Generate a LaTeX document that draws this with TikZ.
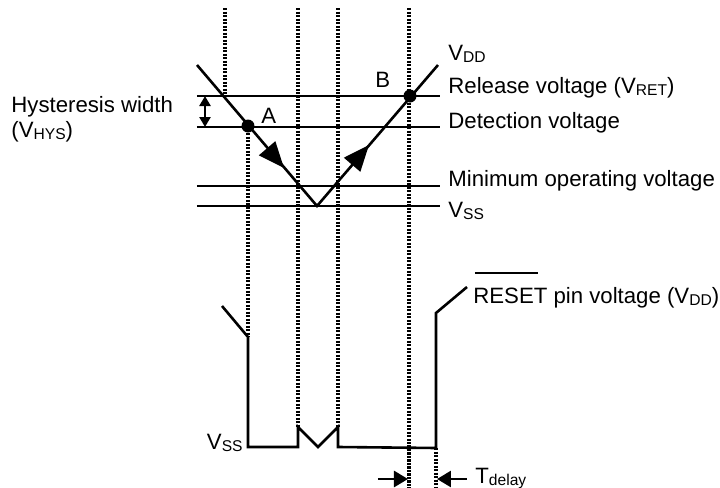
\documentclass[tikz,border=0pt]{standalone}
\usepackage{fontspec}
\setmainfont{Liberation Sans}
\usetikzlibrary{arrows.meta}
\newcommand\sbs[1]{\raisebox{-1.2pt}{\fontsize{7.8}{8}\selectfont #1}}
\begin{document}
\begin{tikzpicture}[x=0.5pt,y=-0.5pt,
  wire/.style={line width=1.3pt, line join=miter},
  dots/.style={line width=1.6pt, dash pattern=on 1.2pt off 0.55pt},
  lbl/.style={anchor=base west, inner sep=0pt, font=\fontsize{11.1}{13}\selectfont},
  rlbl/.style={anchor=base east, inner sep=0pt, font=\fontsize{11.1}{13}\selectfont},
  bigtri/.style={-{Triangle[length=13pt,width=10.5pt]}, line width=1.3pt},
  dot/.style={fill=black},
]
\useasboundingbox (0,0) rectangle (720,488);

% key points
\coordinate (Ltop) at (197,65);
\coordinate (Vbot) at (317,206);
\coordinate (Rtop) at (438,65);
\coordinate (A) at (248,126);
\coordinate (B) at (410,96);

% dotted verticals
\coordinate (d1t) at (225,8);   \coordinate (d1b) at (225,96);
\coordinate (d2t) at (248,126); \coordinate (d2b) at (248,337);
\coordinate (d3t) at (298,8);   \coordinate (d3b) at (298,427);
\coordinate (d4t) at (338,8);   \coordinate (d4b) at (338,427);
\coordinate (d5t) at (409,8);   \coordinate (d5b) at (409,488);
\coordinate (d6t) at (436,448); \coordinate (d6b) at (436,488);
\foreach \i in {1,...,6} \draw[dots] (d\i t) -- (d\i b);

% horizontal levels
\coordinate (retL) at (197,96);  \coordinate (retR) at (440,96);
\coordinate (detL) at (197,127); \coordinate (detR) at (440,127);
\coordinate (minL) at (197,186); \coordinate (minR) at (440,186);
\coordinate (vssL) at (197,206); \coordinate (vssR) at (440,206);
\draw[wire] (retL) -- (retR);
\draw[wire] (detL) -- (detR);
\draw[wire] (minL) -- (minR);
\draw[wire] (vssL) -- (vssR);

% V-shaped supply
\draw[wire] (Ltop) -- (Vbot) -- (Rtop);
\coordinate (a1s) at (277.5,160.4); \coordinate (a1t) at (284,168);
\coordinate (a2s) at (362.5,152.6); \coordinate (a2t) at (369,145);
\draw[bigtri] (a1s) -- (a1t);
\draw[bigtri] (a2s) -- (a2t);
\fill[dot] (A) circle[radius=6.5];
\fill[dot] (B) circle[radius=6.5];

% hysteresis arrow
\coordinate (h1) at (205,96); \coordinate (h2) at (205,127);
\draw[line width=1.3pt, {Triangle[length=5pt,width=5.5pt]}-{Triangle[length=5pt,width=5.5pt]}] (h1) -- (h2);

% reset waveform
\coordinate (r0) at (222,306);
\coordinate (r1) at (248,337);
\coordinate (r2) at (248,447);
\coordinate (r3) at (298,447);
\coordinate (r4) at (298,427);
\coordinate (r5) at (318,447);
\coordinate (r6) at (338,427);
\coordinate (r7) at (338,447);
\coordinate (r8) at (436,448);
\coordinate (r9) at (436,313);
\coordinate (r10) at (467,287);
\draw[wire] (r0) -- (r1) -- (r2) -- (r3) -- (r4) -- (r5) -- (r6) -- (r7) -- (r8) -- (r9) -- (r10);

% T delay arrows
\coordinate (t1s) at (378,479); \coordinate (t1e) at (408,479);
\coordinate (t2s) at (467,479); \coordinate (t2e) at (437,479);
\draw[line width=1.3pt, -{Triangle[length=7pt,width=8pt]}] (t1s) -- (t1e);
\draw[line width=1.3pt, -{Triangle[length=7pt,width=8pt]}] (t2s) -- (t2e);

% labels
\node[lbl] (hyst) at (11,112) {Hysteresis width};
\node[lbl] (vhys) at (11,137) {(V\sbs{HYS})};
\node[lbl] (la) at (261,123) {A};
\node[lbl] (lb) at (375,87) {B};
\node[lbl] (vdd) at (448,60) {V\sbs{DD}};
\node[lbl] (ret) at (448,93) {Release voltage (V\sbs{RET})};
\node[lbl] (det) at (448,128) {Detection voltage};
\node[lbl] (min) at (448,186) {Minimum operating voltage};
\node[lbl] (vss) at (448,217) {V\sbs{SS}};
\node[rlbl] (vss2) at (243,449) {V\sbs{SS}};
\node[lbl] (reset) at (473,303) {RESET pin voltage (V\sbs{DD})};
\node[lbl] (td) at (475,483) {T\sbs{delay}};
\coordinate (ov1) at (475,273); \coordinate (ov2) at (538,273);
\draw[line width=1.3pt] (ov1) -- (ov2);
\end{tikzpicture}
\end{document}
